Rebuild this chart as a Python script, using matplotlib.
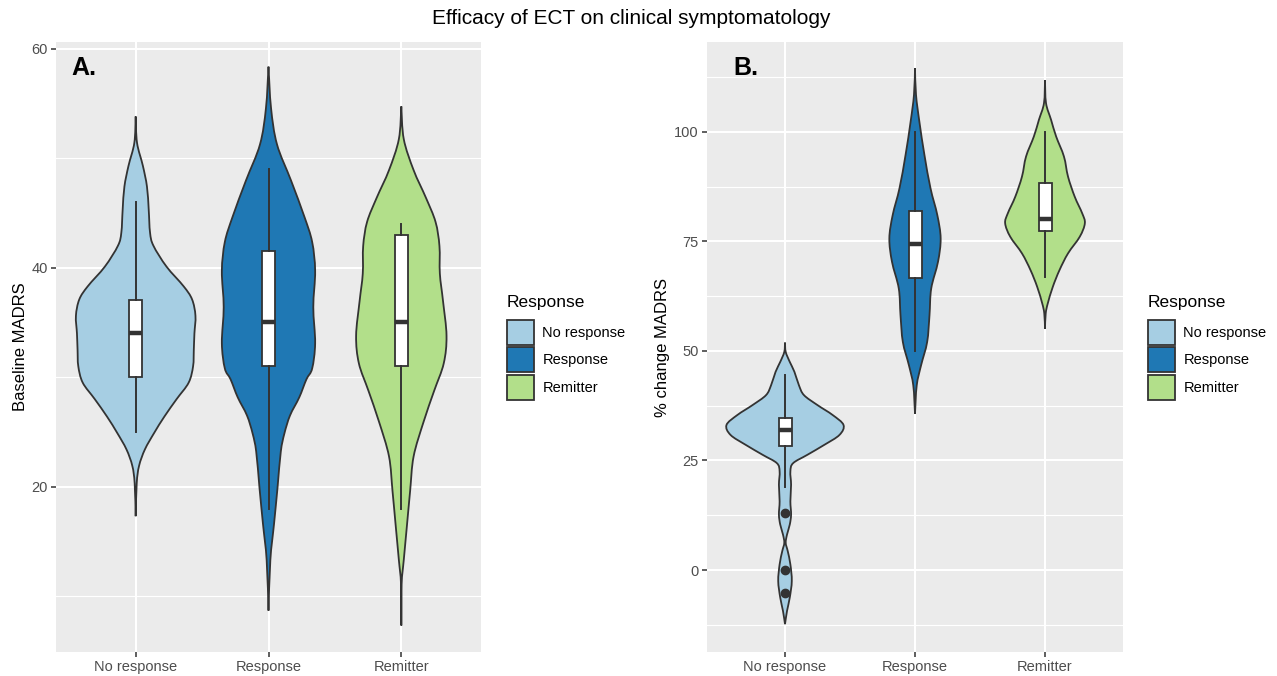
import matplotlib
matplotlib.use("Agg")
import matplotlib.pyplot as plt
from matplotlib.patches import Patch, PathPatch
from matplotlib.path import Path
import numpy as np

plt.rcParams['font.family'] = ['Liberation Sans', 'DejaVu Sans']

# ---------------- data ----------------
groups = ["No response", "Response", "Remitter"]
colors = ["#A6CEE3", "#1F78B4", "#B2DF8A"]

# Panel A: Baseline MADRS - violin density profiles (value, relative density)
a_nr_y = [53.8, 51.4, 49.3, 47.4, 45.3, 43.2, 42.0, 40.1, 38.3, 37.1, 35.6, 34.0,
          32.5, 31.0, 29.5, 28.0, 26.4, 24.9, 23.4, 21.9, 20.3, 17.3]
a_nr_d = [0, 1.3, 7, 11, 12.7, 14, 17.3, 30, 46.7, 55, 58.3, 57.3,
          56.7, 56, 51.7, 40, 28, 18, 9, 3.3, 1, 0]
a_rs_y = [58.35, 54.55, 51.25, 47.95, 44.65, 42.34, 39.70, 36.40, 33.10, 30.79,
          29.80, 28.15, 26.50, 24.85, 23.20, 19.90, 16.60, 13.30, 8.68]
a_rs_d = [0, 2.5, 8.3, 22, 35, 42.6, 45.5, 43.7, 45.5, 42.6,
          37, 30, 21, 15.5, 12, 8.8, 5.4, 1.8, 0]
a_rm_y = [54.72, 51.73, 48.90, 46.38, 44.17, 41.97, 39.45, 36.93, 33.78, 31.26,
          28.74, 25.91, 22.76, 19.61, 16.46, 13.31, 11.10, 7.32]
a_rm_d = [0, 2.4, 12, 24, 33.4, 37.2, 37.6, 40.7, 44.1, 41.4,
          32, 21.7, 12, 8.6, 5.5, 2.4, 0.3, 0]

# Panel A boxplot statistics
a_q1 = [30, 31, 31]
a_med = [34, 35, 35]
a_q3 = [37, 41.5, 43]
a_lo = [25, 18, 18]
a_hi = [46, 49, 44]
a_out = [[], [], []]

# Panel B: % change MADRS - violin density profiles
b_nr_y = [51.9, 49.77, 47.5, 45.23, 42.2, 39.92, 37.65, 35.38, 33.11, 30.83, 28.56,
          26.29, 24.39, 22.5, 19.47, 15.68, 12.65, 10.38, 8.11, 6.21, 4.32, 1.29,
          -2.5, -6.29, -9.32, -12.35]
b_nr_d = [0, 0.7, 4.7, 9.3, 13.7, 18.7, 32, 47, 57.7, 53.7, 38.7,
          22, 8, 5.3, 6, 5.3, 6, 4.7, 2, 0.7, 2.7, 5.3,
          6.7, 4.7, 2, 0]
b_rs_y = [114.56, 108.46, 102.36, 94.74, 87.12, 81.02, 75.69, 70.35, 64.25,
          58.16, 52.06, 46.73, 42.15, 35.67]
b_rs_d = [0, 1, 4.3, 9.3, 15.3, 22, 25.3, 22.7, 16, 14.3, 12, 6, 1.7, 0]
b_rm_y = [111.74, 106.55, 102.74, 98.93, 94.36, 89.79, 85.21, 81.4, 79.12, 76.07,
          72.26, 68.45, 64.63, 60.82, 58.54, 55.1]
b_rm_d = [0, 1, 6, 11, 18.7, 22.7, 29.3, 36.7, 39.3, 34.3,
          22.7, 14.3, 7.7, 2.7, 0.7, 0]

# Panel B boxplot statistics
b_q1 = [28.3, 66.7, 77.4]
b_med = [32, 74.4, 80.2]
b_q3 = [34.8, 81.9, 88.4]
b_lo = [18.9, 50, 66.8]
b_hi = [44.5, 100, 100]
b_out = [[13, 0, -5.3], [], []]

title = "Efficacy of ECT on clinical symptomatology"

# ---------------- figure ----------------
W, H = 1277, 676
fig = plt.figure(figsize=(W / 100, H / 100), dpi=100)
fig.patch.set_facecolor("white")

EDGE = "#333333"
PANEL = "#EBEBEB"


def px_axes(left, right, top, bottom):
    return fig.add_axes([left / W, 1 - bottom / H, (right - left) / W, (bottom - top) / H])


def style_axes(ax, ylim, major, minor, ylabel, label_x):
    ax.set_facecolor(PANEL)
    ax.set_xlim(0.4, 3.6)
    ax.set_ylim(*ylim)
    ax.set_yticks(major)
    ax.set_yticks(minor, minor=True)
    ax.set_xticks([1, 2, 3])
    ax.set_xticklabels(groups)
    for s in ax.spines.values():
        s.set_visible(False)
    ax.grid(True, which="major", color="white", lw=1.5)
    ax.grid(True, which="minor", axis="y", color="white", lw=0.8)
    ax.set_axisbelow(True)
    ax.tick_params(axis="both", which="major", length=3.4, width=1.1, color=EDGE,
                   labelcolor="#4D4D4D", labelsize=10.5, pad=2.5)
    ax.tick_params(axis="both", which="minor", length=0)
    ax.set_ylabel(ylabel, fontsize=12, color="black")
    ax.yaxis.set_label_coords(label_x, 0.5)


def bezier_side(xs, ys):
    """Smooth curve through the read points (Catmull-Rom rendered as cubic Beziers)."""
    P = np.column_stack([xs, ys])
    n = len(P)
    verts = [P[0]]
    codes = []
    for i in range(n - 1):
        p0 = P[i - 1] if i > 0 else P[i]
        p1 = P[i]
        p2 = P[i + 1]
        p3 = P[i + 2] if i + 2 < n else P[i + 1]
        c1 = p1 + (p2 - p0) / 6.0
        c2 = p2 - (p3 - p1) / 6.0
        verts += [c1, c2, p2]
        codes += [Path.CURVE4] * 3
    return verts, codes


def violin_patch(pos, ys, hw, color):
    ys = np.asarray(ys, float)
    rv, rc = bezier_side(pos + hw, ys)
    lv, lc = bezier_side((pos - hw)[::-1], ys[::-1])
    verts = rv + [lv[0]] + lv[1:] + [rv[0]]
    codes = [Path.MOVETO] + rc + [Path.LINETO] + lc + [Path.CLOSEPOLY]
    return PathPatch(Path(verts, codes), facecolor=color, edgecolor=EDGE, lw=1.3,
                     zorder=2)


def draw_panel(ax, profiles, q1, med, q3, lo, hi, outs):
    dmax = max(max(d) for _, d in profiles)
    for i, ((ys, ds), c) in enumerate(zip(profiles, colors)):
        pos = i + 1
        hw = np.array(ds, float) / dmax * 0.45
        ax.add_patch(violin_patch(pos, ys, hw, c))
    stats = []
    for i in range(3):
        stats.append(dict(med=med[i], q1=q1[i], q3=q3[i], whislo=lo[i], whishi=hi[i],
                          fliers=outs[i]))
    ax.bxp(stats, positions=[1, 2, 3], widths=0.1, patch_artist=True, showcaps=False,
           manage_ticks=False, zorder=3,
           boxprops=dict(facecolor="white", edgecolor=EDGE, lw=1.3),
           medianprops=dict(color=EDGE, lw=3.2, solid_capstyle="butt"),
           whiskerprops=dict(color=EDGE, lw=1.4),
           flierprops=dict(marker="o", markerfacecolor=EDGE, markeredgecolor=EDGE,
                           markersize=6))


def add_legend(ax, x_px, y_px):
    handles = [Patch(facecolor=c, edgecolor=EDGE, lw=1.3) for c in colors]
    leg = ax.legend(handles, groups, title="Response", loc="upper left",
                    bbox_to_anchor=(x_px / W, 1 - y_px / H), bbox_transform=fig.transFigure,
                    frameon=False, fontsize=10.5, title_fontsize=12.5,
                    handlelength=1.83, handleheight=2.26, labelspacing=0.15,
                    handletextpad=0.6, borderpad=0, borderaxespad=0,
                    alignment="left")
    leg._legend_box.sep = 7.3
    return leg


# Panel A
axA = px_axes(56, 481, 42, 652)
style_axes(axA, (4.9, 60.6), [20, 40, 60], [10, 30, 50], "Baseline MADRS", -0.066)
draw_panel(axA, [(a_nr_y, a_nr_d), (a_rs_y, a_rs_d), (a_rm_y, a_rm_d)],
           a_q1, a_med, a_q3, a_lo, a_hi, a_out)
axA.text(0.037, 0.957, "A.", transform=axA.transAxes, fontsize=18, fontweight="bold",
         ha="left", va="center")
add_legend(axA, 507, 295)

# Panel B
axB = px_axes(707, 1123, 42, 652)
style_axes(axB, (-18.7, 120.5), [0, 25, 50, 75, 100],
           [-12.5, 12.5, 37.5, 62.5, 87.5, 112.5], "% change MADRS", -0.089)
draw_panel(axB, [(b_nr_y, b_nr_d), (b_rs_y, b_rs_d), (b_rm_y, b_rm_d)],
           b_q1, b_med, b_q3, b_lo, b_hi, b_out)
axB.text(0.0625, 0.957, "B.", transform=axB.transAxes, fontsize=18, fontweight="bold",
         ha="left", va="center")
add_legend(axB, 1148, 295)

fig.text(631 / W, 1 - 19 / H, title, ha="center", va="center", fontsize=15)

fig.savefig("out.png", dpi=100)
